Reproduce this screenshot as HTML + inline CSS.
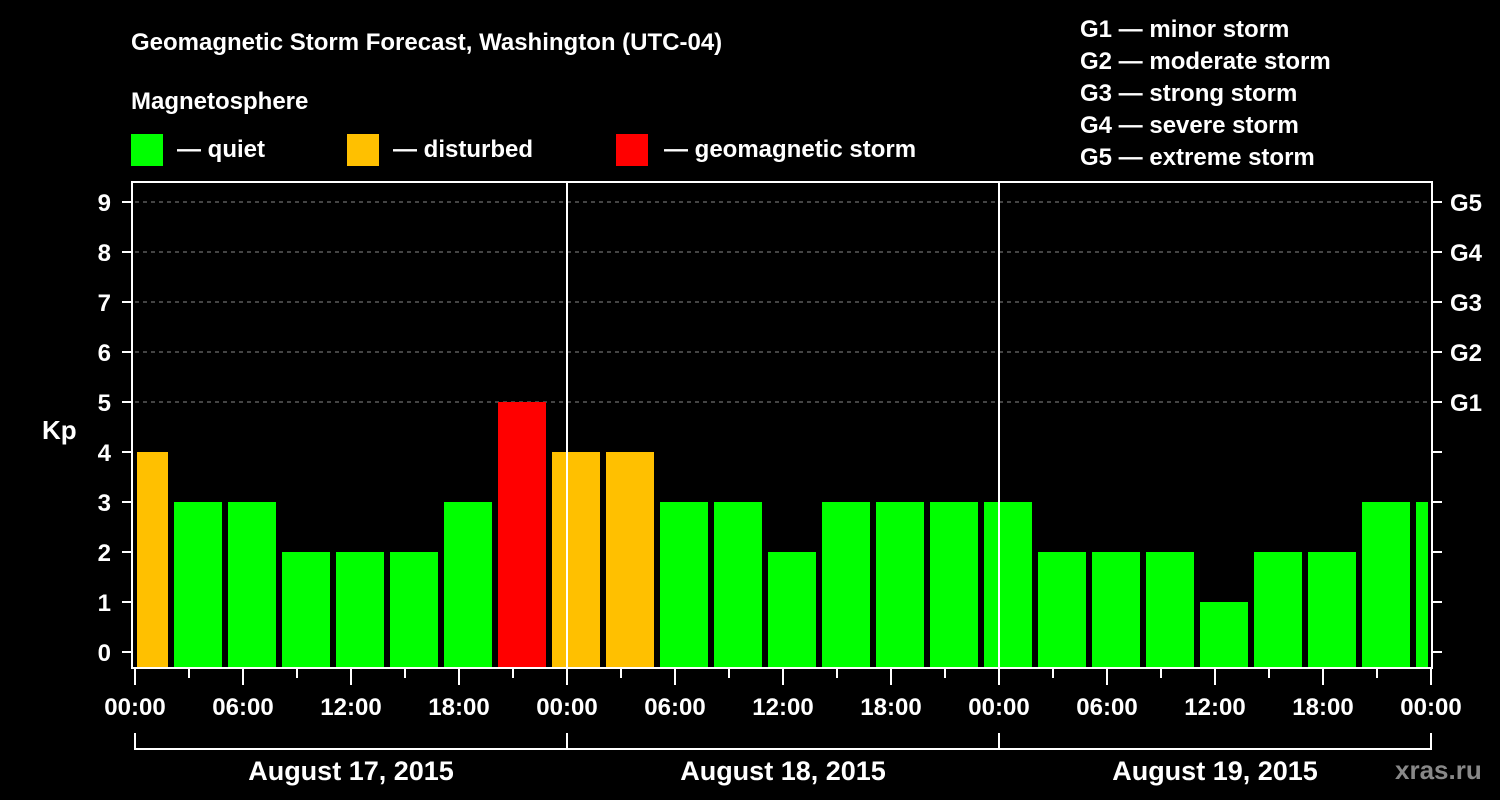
<!DOCTYPE html>
<html><head><meta charset="utf-8"><style>
html,body{margin:0;padding:0;background:#000;}
svg{display:block;font-family:"Liberation Sans",Arial,sans-serif;font-weight:bold;}
</style></head><body>
<svg id="chart" width="1500" height="800" viewBox="0 0 1500 800">
<text x="131" y="50" fill="#fff" font-size="24">Geomagnetic Storm Forecast, Washington (UTC-04)</text>
<text x="131" y="109" fill="#fff" font-size="24">Magnetosphere</text>
<g><rect x="131" y="134" width="32" height="32" fill="#00ff00"/><text x="177" y="157" fill="#fff" font-size="24">— quiet</text></g>
<g><rect x="347" y="134" width="32" height="32" fill="#ffc000"/><text x="393" y="157" fill="#fff" font-size="24">— disturbed</text></g>
<g><rect x="616" y="134" width="32" height="32" fill="#ff0000"/><text x="664" y="157" fill="#fff" font-size="24">— geomagnetic storm</text></g>
<g fill="#fff" font-size="24">
<text x="1080" y="37">G1 — minor storm</text>
<text x="1080" y="69">G2 — moderate storm</text>
<text x="1080" y="101">G3 — strong storm</text>
<text x="1080" y="133">G4 — severe storm</text>
<text x="1080" y="165">G5 — extreme storm</text>
</g>
<text x="42" y="439" fill="#fff" font-size="26">Kp</text>
<g id="grid"></g><g id="bars"></g><g id="axes"></g>
<text x="1395" y="779" fill="#888" font-size="26">xras.ru</text>
</svg>
<script>
const kpValues=[4,3,3,2,2,2,3,5,4,4,3,3,2,3,3,3,3,2,2,2,1,2,2,3,3];
const barStartHours=[-1,2,5,8,11,14,17,20,23,26,29,32,35,38,41,44,47,50,53,56,59,62,65,68,71];
const yTicks=[0,1,2,3,4,5,6,7,8,9];
const gLabels=["G1","G2","G3","G4","G5"];
const xLabels=["00:00","06:00","12:00","18:00","00:00","06:00","12:00","18:00","00:00","06:00","12:00","18:00","00:00"];
const dayLabels=["August 17, 2015","August 18, 2015","August 19, 2015"];
const NS="http://www.w3.org/2000/svg";
const L=135,R=1430,T=182,B=668;
const x=h=>L+h*18;
const y=v=>652-v*50;
function mk(tag,attrs,parent,text){const e=document.createElementNS(NS,tag);for(const k in attrs)e.setAttribute(k,attrs[k]);if(text!=null)e.textContent=text;parent.appendChild(e);return e;}
const grid=document.getElementById('grid'),bars=document.getElementById('bars'),axes=document.getElementById('axes');
for(let v=5;v<=9;v++){const g=mk('line',{x1:L,x2:R,y1:y(v),y2:y(v),stroke:'#888','stroke-dasharray':'4,4','stroke-width':1},grid);

}
kpValues.forEach((v,i)=>{const s=Math.max(x(barStartHours[i])+3,L+2),e=Math.min(x(barStartHours[i]+3)-3,R-2);
const c=v>=5?'#ff0000':v>=4?'#ffc000':'#00ff00';
const r=mk('rect',{x:s,y:y(v),width:e-s,height:B-1-y(v),fill:c},bars);

});
[24,48].forEach(h=>{const l=mk('line',{x1:x(h),x2:x(h),y1:T,y2:B,stroke:'#fff','stroke-width':2},axes);

});
const fr=mk('rect',{x:L-3,y:T,width:R-L+5,height:B-T,fill:'none',stroke:'#fff','stroke-width':2},axes);


yTicks.forEach(v=>{mk('line',{x1:L-13,x2:L-3,y1:y(v),y2:y(v),stroke:'#fff','stroke-width':2},axes);
mk('line',{x1:R+2,x2:R+12,y1:y(v),y2:y(v),stroke:'#fff','stroke-width':2},axes);
const t=mk('text',{x:L-24,y:y(v)+9,fill:'#fff','font-size':24,'text-anchor':'end'},axes,String(v));


if(v>=5){const g=mk('text',{x:R+20,y:y(v)+9,fill:'#fff','font-size':24},axes,gLabels[v-5]);

}});
for(let h=0;h<=72;h+=3){const major=h%6===0;mk('line',{x1:x(h),x2:x(h),y1:B+1,y2:B+(major?17:10),stroke:'#fff','stroke-width':2},axes);}
xLabels.forEach((s,i)=>{const t=mk('text',{x:x(i*6),y:715,fill:'#fff','font-size':24,'text-anchor':'middle'},axes,s);

});
mk('polyline',{points:`${x(0)},733 ${x(0)},749 ${x(72)},749 ${x(72)},733`,fill:'none',stroke:'#fff','stroke-width':2},axes);
[24,48].forEach(h=>mk('line',{x1:x(h),x2:x(h),y1:733,y2:749,stroke:'#fff','stroke-width':2},axes));
dayLabels.forEach((s,i)=>{const t=mk('text',{x:x(i*24+12),y:780,fill:'#fff','font-size':27,'text-anchor':'middle'},axes,s);

});
</script>
</body></html>
